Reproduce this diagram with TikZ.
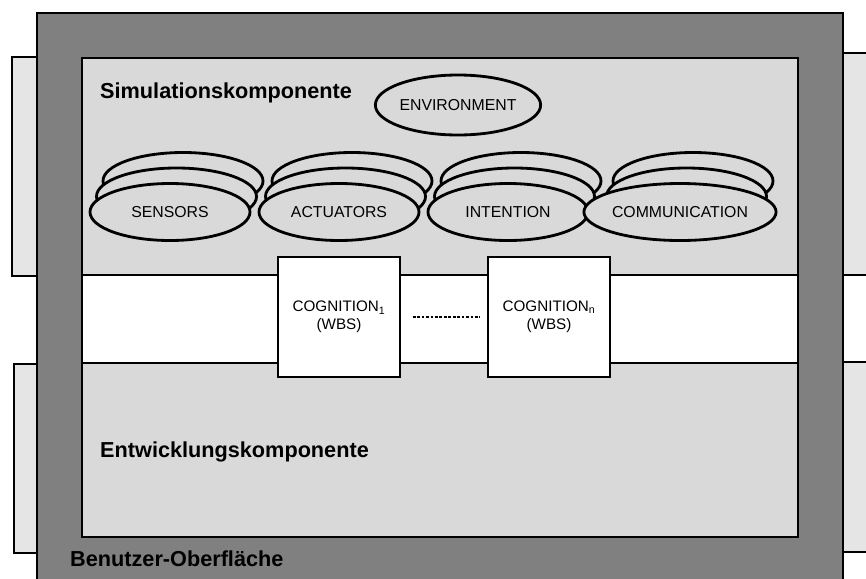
\documentclass[tikz,border=0pt]{standalone}
\usepackage{fontspec}
\setmainfont{Liberation Sans}
\usetikzlibrary{shapes.geometric}

\tikzset{
    strip/.style={draw, line width=1.4pt, fill=black!10},
    frame/.style={draw, line width=1.8pt, fill=black!50},
    panel/.style={draw, line width=1.6pt, fill=black!15},
    lobe/.style={ellipse, draw, line width=2.4pt, fill=black!15, inner sep=0pt,
        minimum width=4.8cm, minimum height=1.71cm, font=\fontsize{13.5}{15}\selectfont},
    cogbox/.style={draw, line width=1.2pt, fill=white, minimum width=3.66cm, minimum height=3.6cm,
        align=center, font=\fontsize{13}{15.4}\selectfont},
    title/.style={anchor=base west, inner sep=0pt, font=\fontsize{18.5}{20}\selectfont\bfseries},
    dotline/.style={line width=1.8pt, dash pattern=on 2.4pt off 1.4pt, shorten <=0.36cm, shorten >=0.21cm}
}

\begin{document}
\begin{tikzpicture}[x=0.03cm, y=-0.03cm]
            \useasboundingbox (0,0) rectangle (866,578);
            \clip (0,0) rectangle (866,578);

            % Layers
            \draw[strip] (12,57) rectangle (60,276);
            \draw[strip] (14,364) rectangle (60,553);
            \draw[strip] (820,53) rectangle (890,275);
            \draw[strip] (820,362) rectangle (890,552);
            \draw[frame] (37,13) rectangle (843,620);
            \draw[line width=1.6pt, fill=white] (82,58) rectangle (798,537);
            \draw[panel] (82,58) rectangle (798,275);
            \draw[panel] (82,363) rectangle (798,537);

            % Labels
            \node[title] (sim) at (100,98) {Simulationskomponente};
            \node[title] (dev) at (100,457) {Entwicklungskomponente};
            \node[title] (gui) at (70,566) {Benutzer-Oberfläche};

            % Nodes
            \node[lobe, minimum width=4.5cm, minimum height=1.8cm] (env) at (458,105) {ENVIRONMENT};

            \node[lobe] (sens3) at (183,181) {};
            \node[lobe] (sens2) at (176.5,196.5) {};
            \node[lobe] (sens) at (170,212) {SENSORS};

            \node[lobe] (act3) at (352,181) {};
            \node[lobe] (act2) at (345.5,196.5) {};
            \node[lobe] (act) at (339,212) {ACTUATORS};

            \node[lobe] (int3) at (521,181) {};
            \node[lobe] (int2) at (514.5,196.5) {};
            \node[lobe] (int) at (508,212) {INTENTION};

            \node[lobe] (com3) at (693,181) {};
            \node[lobe] (com2) at (686.5,196.5) {};
            \node[lobe] (com) at (680,212) {COMMUNICATION};

            \node[cogbox] (cog1) at (339,317) {COGNITION\textsubscript{1}\\(WBS)};
            \node[cogbox] (cogn) at (549,317) {COGNITION\textsubscript{n}\\(WBS)};

            % Lines
            \draw[dotline] (cog1) -- (cogn);
        \end{tikzpicture}
\end{document}
